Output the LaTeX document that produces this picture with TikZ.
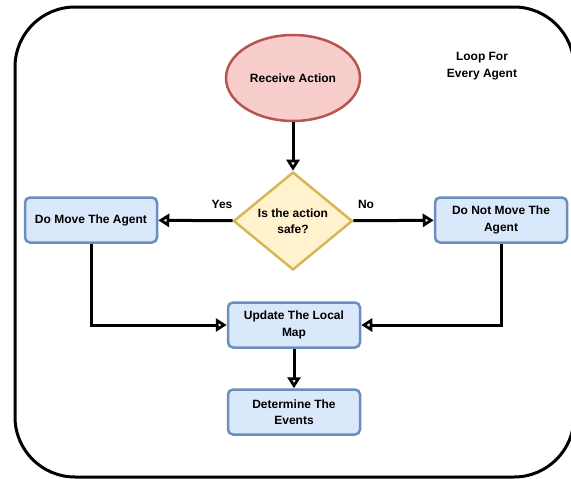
\documentclass[tikz,border=0pt]{standalone}
\usepackage{fontspec}
\setmainfont{Liberation Sans}
\usetikzlibrary{arrows.meta,shapes.geometric}

\definecolor{boxline}{HTML}{6C8EBF}
\definecolor{boxfill}{HTML}{DAE8FC}
\definecolor{startline}{HTML}{B85450}
\definecolor{startfill}{HTML}{F8CECC}
\definecolor{askline}{HTML}{D6B656}
\definecolor{askfill}{HTML}{FFF2CC}

\begin{document}
\begin{tikzpicture}[x=1pt, y=-1pt, line width=2.5pt,
	txt/.style={font=\bfseries\fontsize{12}{16.5}\selectfont, align=center},
	stepbox/.style={txt, draw=boxline, fill=boxfill, rounded corners=5pt,
		minimum width=132pt, minimum height=45pt},
	flow/.style={line width=3pt, -{Triangle[open, length=11pt, width=13pt]}}]

	\useasboundingbox (0,0) rectangle (571,479);
	% outer loop frame
	\draw[line width=3pt, rounded corners=60pt] (15,7) rectangle (574,477);
	\node[txt] (loop) at (482,66) {Loop For\\Every Agent};

	\node[txt, ellipse, draw=startline, fill=startfill,
		minimum width=134pt, minimum height=86pt] (recv) at (293,78) {Receive Action};
	\node[txt, diamond, draw=askline, fill=askfill, inner sep=0pt,
		minimum width=119pt, minimum height=98pt] (safe) at (293,221) {Is the action\\safe?};

	\node[stepbox] (move)   at (91,220)  {Do Move The Agent};
	\node[stepbox] (nomove) at (501,220) {Do Not Move The\\Agent};
	\node[stepbox] (update) at (294,325) {Update The Local\\Map};
	\node[stepbox] (events) at (294,412) {Determine The\\Events};

	\draw[flow] (recv) -- (safe);
	\draw[flow] (safe) -- (move);
	\draw[flow] (safe) -- (nomove);
	\node[txt] (yes) at (222,204) {Yes};
	\node[txt] (no)  at (366,204) {No};

	\draw[flow] (move.south) |- (update.west);
	\draw[flow] (nomove.south) |- (update.east);
	\draw[flow] (update) -- (events);
\end{tikzpicture}
\end{document}
